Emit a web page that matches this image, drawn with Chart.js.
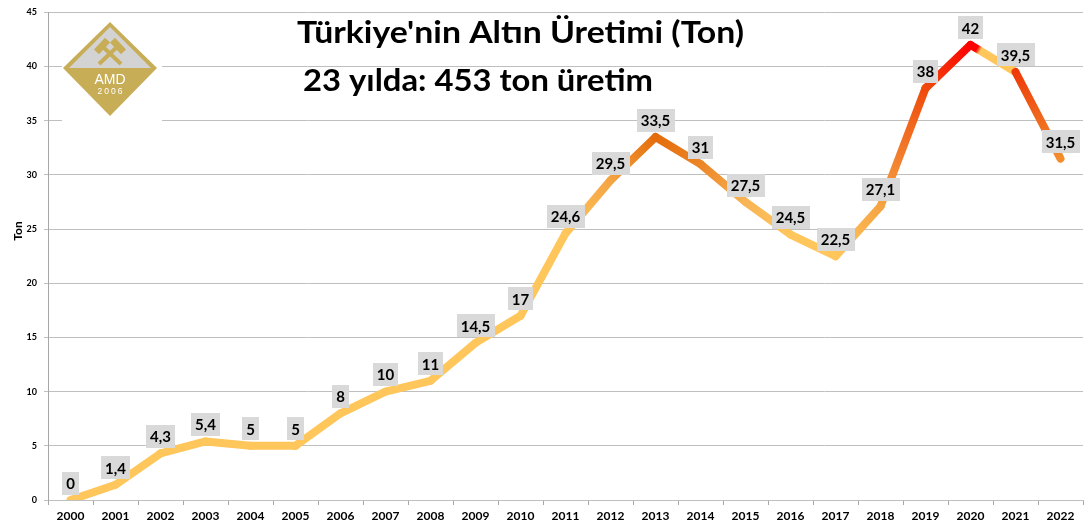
<!DOCTYPE html>
<html><head><meta charset="utf-8">
<script src="https://cdn.jsdelivr.net/npm/chart.js@4.4.0/dist/chart.umd.min.js"></script>
<style>html,body{margin:0;padding:0;background:#fff}#wrap{width:1086px;height:523px}</style>
</head><body><div id="wrap"><canvas id="c" width="1086" height="523"></canvas></div>
<script>
const years = ['2000','2001','2002','2003','2004','2005','2006','2007','2008','2009','2010','2011','2012','2013','2014','2015','2016','2017','2018','2019','2020','2021','2022'];
const production = [0,1.4,4.3,5.4,5,5,8,10,11,14.5,17,24.6,29.5,33.5,31,27.5,24.5,22.5,27.1,38,42,39.5,31.5];
const yTicks = [0,5,10,15,20,25,30,35,40,45];
const titleText = "Türkiye'nin Altın Üretimi (Ton)";
const subtitleText = "23 yılda: 453 ton üretim";
const yAxisTitle = 'Ton';

// style: gradient colours for each segment (from year i to year i+1)
const L = '#FFC65C';
const segFrom = [L,L,L,L,L,L,L,L,L,L,L,L,'#F4A443','#E46C0A','#EC8526','#F8B455',L,L,'#F5A444','#EF4A0C','#FF0000','#EE3A0A'];
const segTo   = [L,L,L,L,L,L,L,L,L,L,L,'#F4A443','#E46C0A','#EC8526','#F8B455',L,L,'#F5A444','#EF4A0C','#FF0000',L,'#F28E2E'];
// style: fraction of each segment that keeps its start colour before blending
const segHold = [0,0,0,0,0,0,0,0,0,0,0,0,0,0,0,0,0,0,0,0,0.14,0];

const FONT = 'Lato, "Open Sans", sans-serif';

function fmt(v){ return String(v).replace('.', ','); }

const labelPlugin = {
  id: 'valueLabels',
  afterDatasetsDraw(chart){
    const c = chart.ctx;
    const meta = chart.getDatasetMeta(0);
    c.save();
    c.font = 'bold 15px ' + FONT;
    c.textAlign = 'center';
    c.textBaseline = 'middle';
    meta.data.forEach((pt, i) => {
      const t = fmt(production[i]);
      const w = c.measureText(t).width + 8;
      const h = 23;
      const cx = pt.x, cy = pt.y - 17;
      c.fillStyle = '#D9D9D9';
      c.fillRect(Math.round(cx - w/2), Math.round(cy - h/2), Math.round(w), h);
      c.fillStyle = '#000';
      c.fillText(t, cx, cy + 1);
    });
    c.restore();
  }
};

function fitText(c, text, x, baseline, targetW, size){
  c.font = 'bold ' + size + 'px ' + FONT;
  const w = c.measureText(text).width;
  const sx = targetW / w;
  c.save();
  c.translate(x, baseline);
  c.scale(sx, 1);
  c.textAlign = 'left';
  c.textBaseline = 'alphabetic';
  c.fillText(text, 0, 0);
  c.restore();
}

function hammer(c, hx, hy, bx, by){
  c.lineWidth = 4;
  c.lineCap = 'butt';
  c.beginPath(); c.moveTo(bx, by); c.lineTo(hx, hy); c.stroke();
  const ang = Math.atan2(hy - by, hx - bx);
  c.save();
  c.translate(hx, hy);
  c.rotate(ang + Math.PI/2);
  c.fillRect(-8, -3.5, 16, 7);
  c.restore();
}

const decoPlugin = {
  id: 'deco',
  afterDraw(chart){
    const c = chart.ctx;
    c.save();
    // logo
    c.fillStyle = '#fff';
    c.fillRect(62, 13, 100, 109);
    const cx = 110, top = 22, mid = 68, bot = 116, hw = 47;
    c.fillStyle = '#C8AD57';
    c.beginPath(); c.moveTo(cx, top); c.lineTo(cx + hw, mid); c.lineTo(cx, bot); c.lineTo(cx - hw, mid); c.closePath(); c.fill();
    c.fillStyle = '#D3D3D3';
    c.beginPath(); c.moveTo(cx, 27); c.lineTo(151, mid); c.lineTo(69, mid); c.closePath(); c.fill();
    c.fillStyle = '#C8AD57'; c.strokeStyle = '#C8AD57';
    hammer(c, 102, 46, 121, 64);
    hammer(c, 118, 46, 99, 64);
    c.fillStyle = '#fff';
    c.textAlign = 'center'; c.textBaseline = 'middle';
    c.font = '14px "Liberation Sans", Arial, sans-serif';
    c.fillText('AMD', cx, 80);
    c.font = '8.5px "Liberation Sans", Arial, sans-serif';
    c.letterSpacing = '2px';
    c.fillText('2006', cx + 1, 92);
    c.letterSpacing = '0px';
    // titles
    c.fillStyle = '#000';
    fitText(c, titleText, 297, 43, 447, 30);
    fitText(c, subtitleText, 303, 91, 350, 30);
    // y axis title
    c.save();
    c.translate(18, 231);
    c.rotate(-Math.PI/2);
    c.font = 'bold 12px ' + FONT;
    c.textAlign = 'center'; c.textBaseline = 'middle';
    c.fillText(yAxisTitle, 0, 0);
    c.restore();
    c.restore();
  }
};

new Chart(document.getElementById('c'), {
  type: 'line',
  data: {
    labels: years,
    datasets: [{
      data: production,
      borderWidth: 8,
      borderColor: L,
      borderCapStyle: 'round',
      borderJoinStyle: 'round',
      pointRadius: 0,
      tension: 0,
      segment: {
        borderColor: ctx => {
          const i = ctx.p0DataIndex;
          const g = ctx.chart.ctx.createLinearGradient(ctx.p0.x, ctx.p0.y, ctx.p1.x, ctx.p1.y);
          g.addColorStop(0, segFrom[i]);
          if (segHold[i] > 0) {
            g.addColorStop(segHold[i], segFrom[i]);
            g.addColorStop(Math.min(1, segHold[i] + 0.08), segTo[i]);
          }
          g.addColorStop(1, segTo[i]);
          return g;
        }
      }
    }]
  },
  options: {
    responsive: false,
    devicePixelRatio: 1,
    animation: false,
    layout: { padding: { top: 9, right: 3, left: 0, bottom: 0 } },
    plugins: { legend: { display: false }, tooltip: { enabled: false } },
    scales: {
      x: {
        offset: true,
        afterFit(s){ s.height = 23; },
        grid: { offset: true, drawOnChartArea: false, drawTicks: true, tickLength: 5, color: '#A6A6A6' },
        border: { color: '#BFBFBF' },
        ticks: { color: '#000', font: { family: FONT, size: 12, weight: 'bold' }, padding: 4, maxRotation: 0, autoSkip: false }
      },
      y: {
        min: 0, max: 45,
        afterFit(s){ s.width = 48; },
        afterBuildTicks(s){ s.ticks = yTicks.map(v => ({ value: v })); },
        grid: { color: '#BFBFBF', tickLength: 4 },
        border: { color: '#A6A6A6' },
        ticks: { color: '#000', font: { family: FONT, size: 9, weight: 'bold' }, padding: 7 }
      }
    }
  },
  plugins: [labelPlugin, decoPlugin]
});
</script>
</body></html>
